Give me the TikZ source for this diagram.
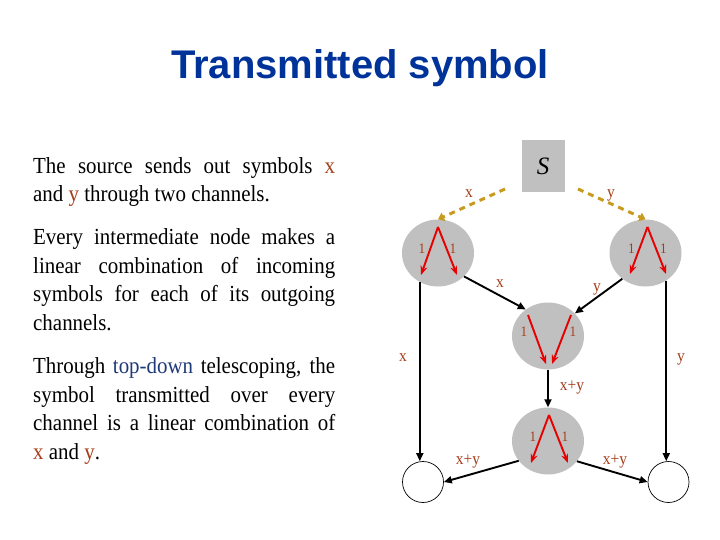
\documentclass[tikz,border=0pt]{standalone}
\usepackage{fontspec}
\usetikzlibrary{arrows.meta,shapes.geometric,calc}
\newfontfamily\bodyfont[FakeStretch=0.91]{Liberation Serif}
\newfontfamily\plainserif{Liberation Serif}
\newfontfamily\titlefont{Liberation Sans}
\definecolor{titleblue}{RGB}{0,51,153}
\definecolor{labbrown}{RGB}{165,60,25}
\definecolor{linkblue}{RGB}{31,56,120}
\definecolor{nodegray}{RGB}{192,192,192}
\definecolor{goldline}{RGB}{200,155,30}
\definecolor{arrred}{RGB}{230,0,0}
\tikzset{
  graynode/.style={ellipse, fill=nodegray, minimum width=72pt, minimum height=67pt, inner sep=0pt},
  sinknode/.style={circle, draw=black, line width=0.7pt, minimum size=41pt, inner sep=0pt},
  srcbox/.style={rectangle, fill=nodegray, minimum width=43pt, minimum height=52pt, inner sep=0pt},
  dasharrow/.style={goldline, line width=3pt, dash pattern=on 6pt off 5pt, -{Triangle[length=6pt,width=9pt]}},
  blackarrow/.style={black, line width=1.9pt, -{Triangle[length=8pt,width=7pt]}},
  redarrow/.style={arrred, line width=1.9pt, -{Stealth[length=9pt,width=7pt]}},
  lab/.style={text=labbrown, font=\bodyfont\fontsize{17}{17}\selectfont, inner sep=0pt, anchor=base},
  onelab/.style={text=labbrown, font=\bodyfont\fontsize{14.5}{14.5}\selectfont, inner sep=0pt, anchor=base},
  para/.style={anchor=base west, inner sep=0pt}
}
\newcommand{\bx}{\textcolor{labbrown}{x}}
\newcommand{\by}{\textcolor{labbrown}{y}}
\begin{document}
\begin{tikzpicture}[x=1pt,y=-1pt]
\useasboundingbox (0,0) rectangle (720,540);

% title
\node[font=\titlefont\bfseries\fontsize{40}{40}\selectfont, text=titleblue, anchor=base, inner sep=0pt] (title) at (360,78.3) {Transmitted symbol};

% text
\node[para] (p1) at (33,173.3) {\parbox[t]{302pt}{\bodyfont\fontsize{23}{28.7}\selectfont
The source sends out symbols \bx{} \linebreak and \by{} through two channels.}};
\node[para] (p2) at (33,244.5) {\parbox[t]{302pt}{\bodyfont\fontsize{23}{28.7}\selectfont
Every intermediate node makes a \linebreak linear combination of incoming \linebreak symbols for each of its outgoing \linebreak channels.}};
\node[para] (p3) at (33,373.3) {\parbox[t]{302pt}{\bodyfont\fontsize{23}{28.7}\selectfont
Through \textcolor{linkblue}{top-down} telescoping, the \linebreak symbol transmitted over every \linebreak channel is a linear combination of \linebreak \bx{} and \by.}};

% nodes
\node[srcbox] (S) at (543,166) {\raisebox{-3pt}{\plainserif\itshape\fontsize{25}{25}\selectfont S}};
\node[graynode] (A) at (438,253) {};
\node[graynode] (B) at (645.5,253) {};
\node[graynode] (C) at (548,336) {};
\node[graynode] (D) at (548,441) {};
\node[sinknode] (E) at (423,482) {};
\node[sinknode] (F) at (668.5,482) {};

\coordinate (s1) at (505,189);
\coordinate (s2) at (578,189);

% dashed source arrows
\draw[dasharrow] (s1) -- (A.north);
\draw[dasharrow] (s2) -- (B.north);
\node[lab] (lx1) at (469,197) {x};
\node[lab] (ly1) at (611,197) {y};

% black arrows
\draw[blackarrow] (A.-42.6) -- (C.130);
\draw[blackarrow] (B.228) -- (C.40);
\node[lab] (lx2) at (500,287) {x};
\node[lab] (ly2) at (597,291) {y};

\draw[blackarrow] (A.238.5) -- (A.238.5 |- E.north);
\draw[blackarrow] (B.-53.7) -- (B.-53.7 |- F.north);
\node[lab] (lx3) at (403,361) {x};
\node[lab] (ly3) at (681,361) {y};

\draw[blackarrow] (C.south) -- (D.north);
\node[lab] (lxy1) at (572,390) {x+y};

\draw[blackarrow] (D.214) -- (E.east);
\draw[blackarrow] (D.-35) -- (F.west);
\node[lab] (lxy2) at (468,464) {x+y};
\node[lab] (lxy3) at (615,464) {x+y};

% red arrows in A
\draw[redarrow] ($(A)+(0,-26)$) -- ($(A)+(-17,22)$);
\draw[redarrow] ($(A)+(0,-26)$) -- ($(A)+(19,22)$);
\node[onelab] (a1) at ($(A)+(-16,0)$) {1};
\node[onelab] (a2) at ($(A)+(15,0)$) {1};
% red arrows in B
\draw[redarrow] ($(B)+(2,-26)$) -- ($(B)+(-15.5,21)$);
\draw[redarrow] ($(B)+(2,-26)$) -- ($(B)+(20.5,21)$);
\node[onelab] (b1) at ($(B)+(-14,0)$) {1};
\node[onelab] (b2) at ($(B)+(18,0)$) {1};
% red arrows in C
\draw[redarrow] ($(C)+(-20,-21)$) -- ($(C)+(-2,28)$);
\draw[redarrow] ($(C)+(23,-21)$) -- ($(C)+(4,28)$);
\node[onelab] (c1) at ($(C)+(-24,0.7)$) {1};
\node[onelab] (c2) at ($(C)+(25,0.7)$) {1};
% red arrows in D
\draw[redarrow] ($(D)+(1,-26)$) -- ($(D)+(-17,22)$);
\draw[redarrow] ($(D)+(1,-26)$) -- ($(D)+(20,22)$);
\node[onelab] (d1) at ($(D)+(-15,0.7)$) {1};
\node[onelab] (d2) at ($(D)+(17,0.7)$) {1};
\end{tikzpicture}
\end{document}
